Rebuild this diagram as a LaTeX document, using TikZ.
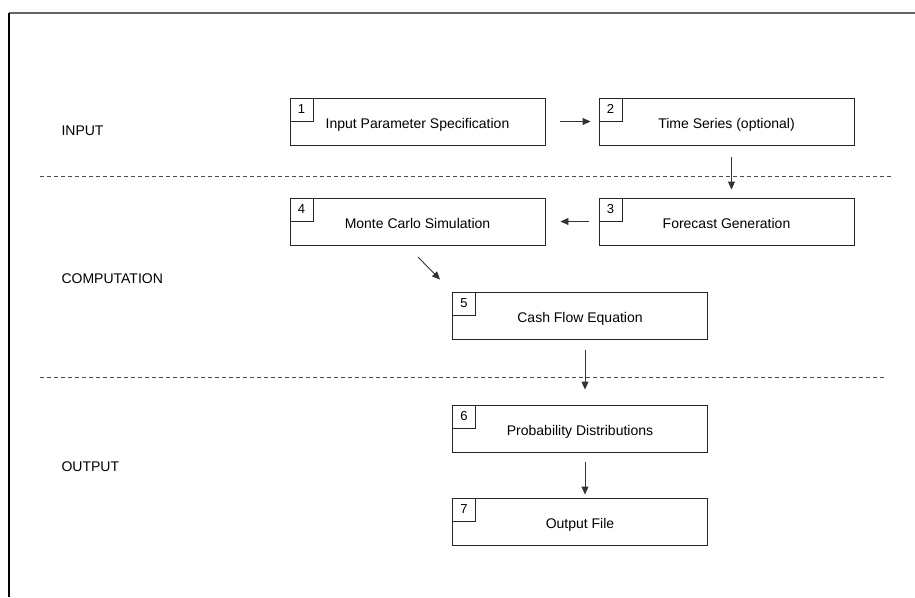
\documentclass[tikz,border=0pt]{standalone}
\usepackage{fontspec}
\setmainfont{Liberation Sans}
\usetikzlibrary{arrows.meta}
\begin{document}
\begin{tikzpicture}[x=1pt,y=-1pt,
  stepbox/.style={draw=black!85,line width=0.9pt,minimum width=255pt,minimum height=47pt,inner sep=0pt,
    font=\fontsize{14}{16}\selectfont,text height=16pt,text depth=2pt},
  numbox/.style={draw=black!85,line width=0.8pt,minimum width=23pt,minimum height=23pt,inner sep=0pt,anchor=north west,
    font=\fontsize{13}{15}\selectfont},
  lane/.style={font=\fontsize{14}{16}\selectfont,anchor=west},
  sep/.style={draw=black!70,dashed,dash pattern=on 4pt off 3pt,line width=0.8pt},
  conn/.style={draw=black!80,line width=0.9pt,-{Triangle[length=8pt,width=7pt]}}]
\useasboundingbox (0,0) rectangle (915,597);
\draw[black!60,line width=1.2pt] (9,13) -- (915,13);
\draw[black,line width=1.2pt] (9,13) -- (9,597);

\node[stepbox] (b1) at (417.5,121.5) {Input Parameter Specification};
\node[stepbox] (b2) at (726.5,121.5) {Time Series (optional)};
\node[stepbox] (b4) at (417.5,221.5) {Monte Carlo Simulation};
\node[stepbox] (b3) at (726.5,221.5) {Forecast Generation};
\node[stepbox] (b5) at (580,315.5) {Cash Flow Equation};
\node[stepbox] (b6) at (580,428.5) {Probability Distributions};
\node[stepbox] (b7) at (580,521.5) {Output File};

\foreach \b/\n in {b1/1,b2/2,b3/3,b4/4,b5/5,b6/6,b7/7}
  \node[numbox] (n\n) at (\b.north west) {\n};

\node[lane] (lin) at (58,131) {INPUT};
\node[lane] (lco) at (58,279) {COMPUTATION};
\node[lane] (lou) at (58,467) {OUTPUT};

\coordinate (d1a) at (40,176); \coordinate (d1b) at (893,176);
\coordinate (d2a) at (40,377); \coordinate (d2b) at (885,377);
\draw[sep] (d1a) -- (d1b);
\draw[sep] (d2a) -- (d2b);

\coordinate (a4s) at (418,257);
\draw[conn] ([xshift=15pt]b1.east) -- ([xshift=-8pt]b2.west);
\draw[conn] ([xshift=5pt,yshift=-12pt]b2.south) -- ([xshift=5pt,yshift=8pt]b3.north);
\draw[conn] ([xshift=-10pt]b3.west) -- ([xshift=15pt]b4.east);
\draw[conn] (a4s) -- ([xshift=-12pt,yshift=12pt]b5.north west);
\draw[conn] ([xshift=5pt,yshift=-11pt]b5.south) -- ([xshift=5pt,yshift=15pt]b6.north);
\draw[conn] ([xshift=5pt,yshift=-10pt]b6.south) -- ([xshift=5pt,yshift=3pt]b7.north);
\end{tikzpicture}
\end{document}
